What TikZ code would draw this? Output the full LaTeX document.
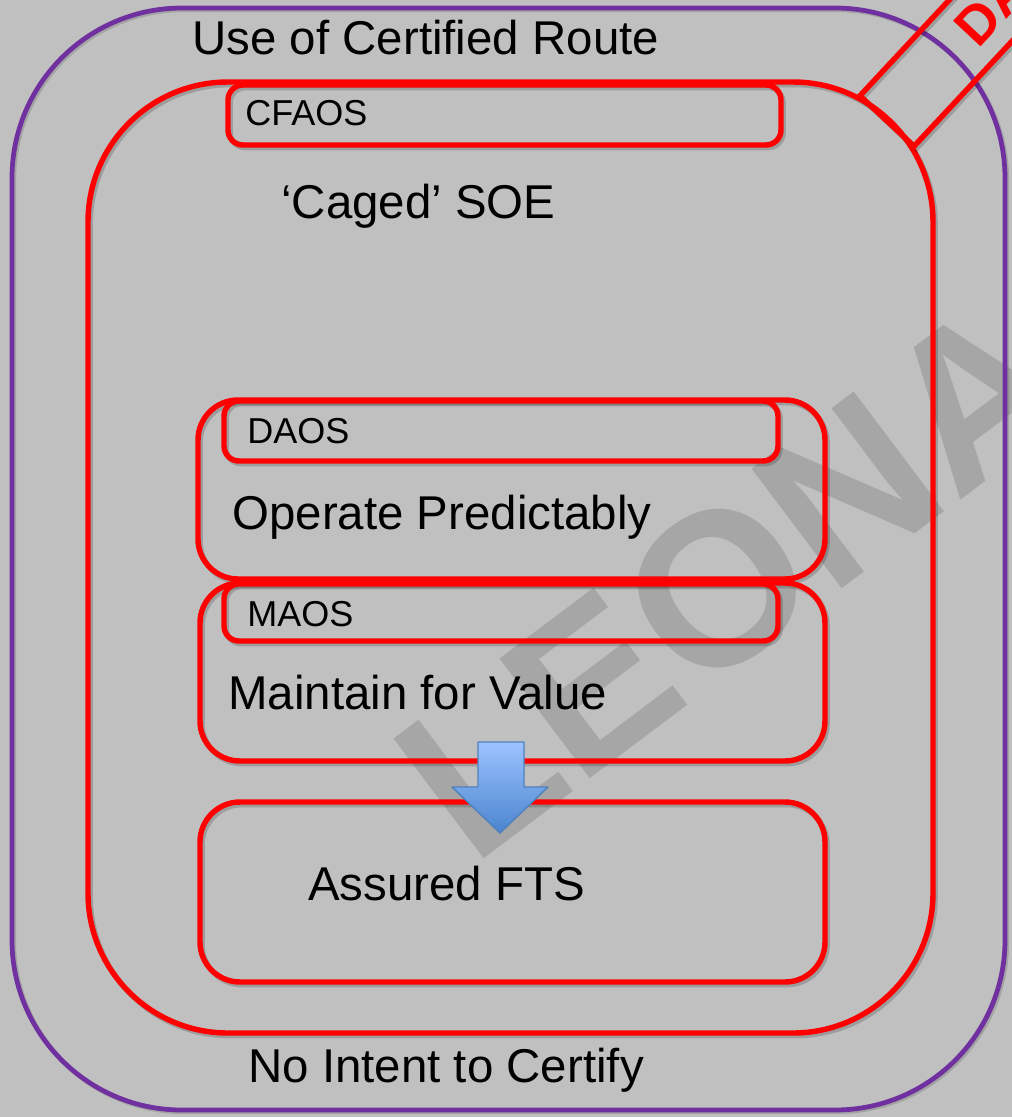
\documentclass[tikz,border=0pt]{standalone}
\usepackage{fontspec}
\setmainfont{Liberation Sans}
\usepackage{tikz}

\definecolor{bggray}{HTML}{C0C0C0}
\definecolor{wmgray}{HTML}{A6A6A6}
\definecolor{routepurple}{HTML}{7030A0}
\definecolor{arrtop}{HTML}{9DC3FF}
\definecolor{arrbot}{HTML}{4A85CF}
\definecolor{arrline}{HTML}{4F81BD}

\begin{document}
\begin{tikzpicture}[x=0.02cm,y=-0.02cm,
  redbox/.style={draw=red,line width=3.1pt,rounded corners=#1,
    preaction={draw=black,opacity=0.18,line width=3.1pt,transform canvas={shift={(1.2pt,-1.5pt)}}}},
  routebox/.style={draw=routepurple,line width=2.7pt,rounded corners=3.4cm,
    preaction={draw=black,opacity=0.15,line width=2.7pt,transform canvas={shift={(1pt,-1pt)}}}},
  bigtxt/.style={anchor=base west,inner sep=0,font=\fontsize{27}{32}\selectfont},
  smalltxt/.style={anchor=base west,inner sep=0,font=\fontsize{20.5}{24}\selectfont}]
  % Background
  \useasboundingbox (0,0) rectangle (1012,1117);
  \fill[bggray] (0,0) rectangle (1012,1117);
  \clip (0,0) rectangle (1012,1117);
  % Watermark
  \node[rotate=37,text=wmgray,inner sep=0,font=\fontsize{124}{124}\selectfont\bfseries] (mark) at (732,578) {LEONA};
  % Certified route boundary
  \draw[routebox] (12,8) rectangle (1005,1110);
  % Caged SOE boundary
  \draw[redbox=2.8cm] (88,82) rectangle (933,1033);
  \draw[redbox=0.3cm] (228,85) rectangle (781,145);
  % Nested boxes (outer box, label strip)
  \foreach \yt/\yb/\ys/\xo in {400/579/461/198,583/761/641/200}{
    \draw[redbox=0.8cm] (\xo,\yt) rectangle (825,\yb);
    \draw[redbox=0.3cm] (224,\yt+1) rectangle (778,\ys);}
  \draw[redbox=0.8cm] (200,802) rectangle (825,982);
  % Draft banner
  \begin{scope}[shift={(887,121)},rotate=47]
    \draw[redbox=0pt] (0,-37) rectangle (420,37);
  \end{scope}
  \node[rotate=47,anchor=west,inner sep=0,text=red,font=\fontsize{31}{31}\selectfont\bfseries] (draft) at (965,37) {DA};
  % Labels
  \node[bigtxt] (route) at (192,54) {Use of Certified Route};
  \node[smalltxt] (cfaos) at (245,125) {CFAOS};
  \node[bigtxt] (soe) at (281,218) {‘Caged’ SOE};
  \node[smalltxt] (daos) at (247,443) {DAOS};
  \node[bigtxt] (operate) at (232,529) {Operate Predictably};
  \node[smalltxt] (maos) at (247,626) {MAOS};
  \node[bigtxt] (maintain) at (228,709) {Maintain for Value};
  \node[bigtxt] (fts) at (308,900) {Assured FTS};
  \node[bigtxt] (nointent) at (248,1082) {No Intent to Certify};
  % Block arrow into Assured FTS
  \shade[top color=arrtop,bottom color=arrbot,draw=arrline,line width=0.8pt,line join=round]
    (478,742) -- (524,742) -- (524,787) -- (548,787) -- (500,833) -- (452,787) -- (478,787) -- cycle;
\end{tikzpicture}
\end{document}
